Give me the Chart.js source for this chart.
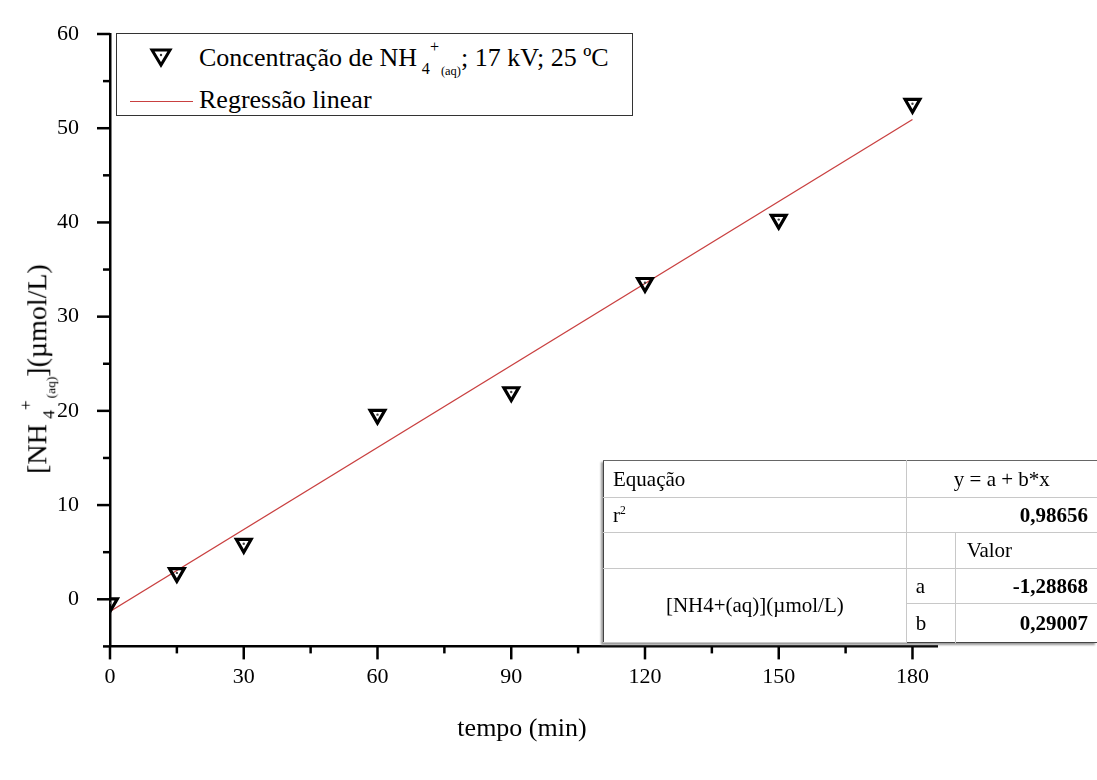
<!DOCTYPE html>
<html lang="pt">
<head>
  <meta charset="utf-8">
  <title>NH4+ x tempo</title>
  <script src="https://cdn.jsdelivr.net/npm/chart.js@4.4.1/dist/chart.umd.min.js"></script>
  <style>
    body { margin: 0; background: #fff; }
    #wrap { position: relative; width: 1097px; height: 780px; overflow: hidden; font-family: "Liberation Serif", "Times New Roman", serif; color: #000; }
    #chart { position: absolute; left: 0; top: 0; }
    .abs { position: absolute; white-space: nowrap; }
    .sb4 { font-size: 0.62em; vertical-align: -0.5em; margin-left: 0.3em; }
    .sp { font-size: 0.62em; vertical-align: 0.85em; }
    .aq { font-size: 0.48em; vertical-align: -0.72em; margin-left: 0.15em; }
    #legend { position: absolute; left: 116px; top: 33px; width: 515px; height: 81px; border: 1px solid #333; background: #fff; font-size: 26px; }
    #legend .line { position: absolute; left: 13px; top: 67px; width: 63px; border-top: 1.3px solid #c94040; }
    #ytitle { position: absolute; left: 38px; top: 369px; font-size: 28px; white-space: nowrap; transform: translate(-50%, -50%) rotate(-90deg); }
    #xtitle { position: absolute; left: 522px; top: 713px; font-size: 26px; transform: translateX(-50%); white-space: nowrap; }
    #tbl { position: absolute; left: 603px; top: 460px; border-collapse: collapse; table-layout: fixed; font-size: 21px; background: #fff;
           border-left: 1px solid #444; border-top: 1px solid #666; border-bottom: 1px solid #444; box-shadow: -2px 2px 2px #999; }
    #tbl td { border: 1px solid #c8c8c8; padding: 0 9px; white-space: nowrap; }
    #tbl td.r { text-align: right; font-weight: bold; }
    #tbl td.c { text-align: center; }
    #tbl tr:first-child td { border-top: none; }
    #tbl td:first-child { border-left: none; }
    #tbl tr:last-child td { border-bottom: none; }
    #tbl td:last-child { border-right: none; }
  </style>
</head>
<body>
<div id="wrap">
  <canvas id="chart" width="1097" height="780"></canvas>

  <div id="legend">
    <svg class="abs" style="left:32px;top:13px" width="24" height="22" viewBox="0 0 24 22">
      <polygon points="3,3 21,3 12,18" fill="none" stroke="#000" stroke-width="3"/>
      <circle cx="12" cy="8" r="1.2" fill="#333"/>
    </svg>
    <div class="abs" style="left:82px;top:4px">Concentração de NH<span class="sb4">4</span><span class="sp">+</span><span class="aq">(aq)</span>; 17 kV; 25 ºC</div>
    <div class="line"></div>
    <div class="abs" style="left:82px;top:51px">Regressão linear</div>
  </div>

  <div id="ytitle">[NH<span class="sb4">4</span><span class="sp">+</span><span class="aq">(aq)</span>](µmol/L)</div>
  <div id="xtitle">tempo (min)</div>

  <table id="tbl">
    <colgroup><col style="width:303px"><col style="width:49px"><col style="width:142px"></colgroup>
    <tr style="height:37px"><td>Equação</td><td colspan="2" class="c">y = a + b*x</td></tr>
    <tr style="height:35px"><td>r<sup style="font-size:0.55em">2</sup></td><td colspan="2" class="r">0,98656</td></tr>
    <tr style="height:36px"><td></td><td></td><td style="padding-left:11px">Valor</td></tr>
    <tr style="height:35px"><td rowspan="2" class="c">[NH4+(aq)](µmol/L)</td><td>a</td><td class="r">-1,28868</td></tr>
    <tr style="height:39px"><td>b</td><td class="r">0,29007</td></tr>
  </table>
</div>

<script>
  // data
  const tempo = [0, 15, 30, 60, 90, 120, 150, 180];
  const concNH4 = [-0.4, 2.8, 5.9, 19.6, 22.0, 33.6, 40.3, 52.6];
  // linear fit end points (a = -1.28868, b = 0.29007)
  const fitX = [0, 180];
  const fitY = [-1.29, 50.92];

  const serif = '"Liberation Serif", "Times New Roman", serif';

  // major/minor tick marks drawn from the scales
  const tickMarks = {
    id: 'tickMarks',
    afterDraw(chart) {
      const ctx = chart.ctx;
      const xs = chart.scales.x, ys = chart.scales.y;
      ctx.save();
      ctx.strokeStyle = '#000';
      ctx.lineWidth = 2.5;
      xs.ticks.forEach(t => {
        const px = xs.getPixelForValue(t.value);
        const len = Math.round(t.value) % 30 === 0 ? 13 : 7;
        ctx.beginPath();
        ctx.moveTo(px, xs.top);
        ctx.lineTo(px, xs.top + len);
        ctx.stroke();
      });
      ys.ticks.forEach(t => {
        const py = ys.getPixelForValue(t.value);
        const len = Math.round(t.value) % 10 === 0 ? 13 : 7;
        ctx.beginPath();
        ctx.moveTo(ys.right, py);
        ctx.lineTo(ys.right - len, py);
        ctx.stroke();
      });
      ctx.restore();
    }
  };

  // fixed plot box, no extra room for edge labels
  function fixBox(s, size) {
    if (s.isHorizontal()) s.height = size; else s.width = size;
    s.paddingTop = 0; s.paddingBottom = 0; s.paddingLeft = 0; s.paddingRight = 0;
  }

  new Chart(document.getElementById('chart'), {
    type: 'scatter',
    data: {
      datasets: [
        {
          label: 'dot',
          data: tempo.map((x, i) => ({ x: x, y: concNH4[i] })),
          pointStyle: 'circle',
          pointRadius: 1.2,
          backgroundColor: '#444',
          borderWidth: 0,
          order: 0
        },
        {
          label: 'Concentração de NH4+(aq); 17 kV; 25 ºC',
          data: tempo.map((x, i) => ({ x: x, y: concNH4[i] })),
          pointStyle: 'triangle',
          rotation: 180,
          pointRadius: 8.5,
          borderWidth: 3.2,
          borderColor: '#000',
          backgroundColor: 'rgba(0,0,0,0)',
          order: 1
        },
        {
          label: 'Regressão linear',
          data: fitX.map((x, i) => ({ x: x, y: fitY[i] })),
          showLine: true,
          borderColor: '#c94040',
          borderWidth: 1.3,
          pointRadius: 0,
          order: 2
        }
      ]
    },
    options: {
      responsive: false,
      animation: false,
      layout: { padding: { top: 34, right: 160, left: 0, bottom: 0 } },
      plugins: { legend: { display: false }, tooltip: { enabled: false } },
      scales: {
        x: {
          type: 'linear',
          min: 0,
          max: 185.5,
          grid: { display: false, drawTicks: false },
          border: { display: true, color: '#000', width: 2.5 },
          afterFit: s => fixBox(s, 133.6),
          ticks: {
            stepSize: 15,
            includeBounds: false,
            padding: 18,
            color: '#000',
            font: { family: serif, size: 22 },
            maxRotation: 0,
            autoSkip: false,
            callback: v => Math.round(v) % 30 === 0 ? v : ''
          }
        },
        y: {
          min: -5,
          max: 60,
          grid: { display: false, drawTicks: false },
          border: { display: true, color: '#000', width: 2.5 },
          afterFit: s => fixBox(s, 110),
          ticks: {
            stepSize: 5,
            padding: 31,
            color: '#000',
            font: { family: serif, size: 22 },
            autoSkip: false,
            callback: v => Math.round(v) % 10 === 0 ? v : ''
          }
        }
      }
    },
    plugins: [tickMarks]
  });
</script>
</body>
</html>
